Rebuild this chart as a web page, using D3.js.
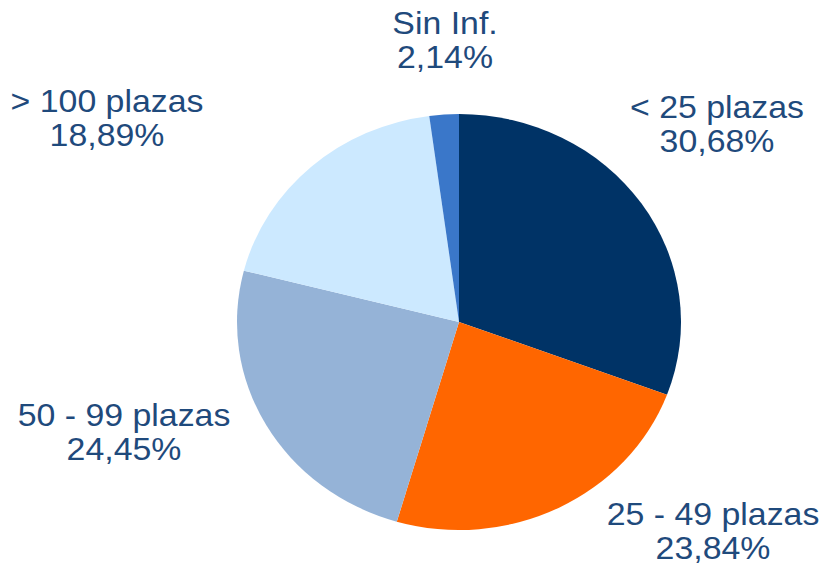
<!DOCTYPE html>
<html>
<head>
<meta charset="utf-8">
<script src="https://cdn.jsdelivr.net/npm/d3@7"></script>
<style>
  html, body { margin: 0; padding: 0; background: #ffffff; }
  svg { display: block; }
</style>
</head>
<body>
<svg id="chart" width="824" height="569"></svg>
<script>
const categories = ["< 25 plazas", "25 - 49 plazas", "50 - 99 plazas", "> 100 plazas", "Sin Inf."];
const values = [30.68, 23.84, 24.45, 18.89, 2.14];
const valueLabels = ["30,68%", "23,84%", "24,45%", "18,89%", "2,14%"];
const colors = ["#003366", "#FF6600", "#95B3D7", "#CCE9FF", "#3A77C9"];

// label layout (center x, first baseline y)
const labelLayout = [
  { x: 717, y: 118 },
  { x: 713, y: 525 },
  { x: 124, y: 426 },
  { x: 107, y: 112 },
  { x: 445, y: 34 }
];

const svg = d3.select("#chart");
const cx = 459, cy = 322, rx = 222, ry = 208;

const pie = d3.pie().sort(null).value(d => d);
const arcs = pie(values);
const arc = d3.arc().innerRadius(0).outerRadius(ry);

const g = svg.append("g")
  .attr("transform", `translate(${cx},${cy}) scale(${rx / ry},1)`);

g.selectAll("path")
  .data(arcs)
  .join("path")
  .attr("d", arc)
  .attr("fill", (d, i) => colors[i]);

const labels = svg.append("g");
categories.forEach((c, i) => {
  const L = labelLayout[i];
  const t = labels.append("text")
    .attr("transform", `translate(${L.x},${L.y}) scale(1.11,1)`)
    .attr("text-anchor", "middle")
    .attr("font-family", "Liberation Sans, Arial, sans-serif")
    .attr("font-size", 30.5)
    .attr("fill", "#1F4A7C");
  t.append("tspan").attr("x", 0).attr("y", 0).text(c);
  t.append("tspan").attr("x", 0).attr("y", 34.5).text(valueLabels[i]);
});
</script>
</body>
</html>
